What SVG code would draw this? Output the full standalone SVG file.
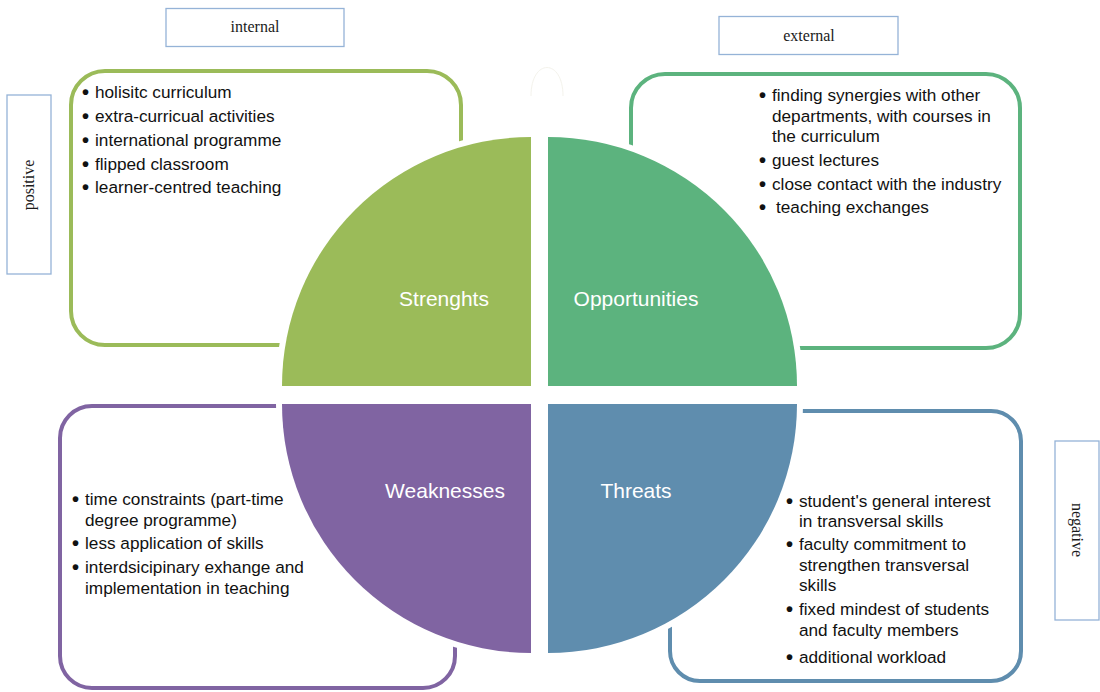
<svg xmlns="http://www.w3.org/2000/svg" width="1100" height="692" viewBox="0 0 1100 692">
  <style>
    .axis { fill: #ffffff; stroke: #95b3d7; stroke-width: 1.3; }
    .axis-t { font-family: "Liberation Serif", "Times New Roman", serif; font-size: 16px; fill: #1a1a1a; text-anchor: middle; }
    .card { fill: #ffffff; stroke-width: 4; }
    .quarter { stroke: #ffffff; stroke-width: 12; paint-order: stroke; stroke-linejoin: miter; }
    .label { font-family: "Liberation Sans", Arial, sans-serif; font-size: 21px; fill: #ffffff; text-anchor: middle; }
    .item { font-family: "Liberation Sans", Arial, sans-serif; font-size: 17.2px; fill: #111111; }
    .dot { font-family: "Liberation Sans", Arial, sans-serif; font-size: 20px; font-weight: bold; fill: #111111; }
  </style>

  <!-- axis labels -->
  <g id="internal">
    <rect class="axis" x="166" y="8.5" width="178" height="38"/>
    <text class="axis-t" x="255" y="32">internal</text>
  </g>
  <g id="external">
    <rect class="axis" x="719" y="16.5" width="179" height="38"/>
    <text class="axis-t" x="809" y="41">external</text>
  </g>
  <g id="positive">
    <rect class="axis" x="7" y="95" width="44" height="179"/>
    <text class="axis-t" transform="translate(34,185) rotate(-90)" x="0" y="0">positive</text>
  </g>
  <g id="negative">
    <rect class="axis" x="1055" y="441" width="44" height="179"/>
    <text class="axis-t" transform="translate(1072,530) rotate(90)" x="0" y="0">negative</text>
  </g>

  <!-- faint arc above the centre -->
  <path d="M531,96 C531,58 563,58 563,96" fill="none" stroke="#f4f3ec" stroke-width="1"/>

  <g id="connectors"></g>

  <!-- Strengths -->
  <g id="strengths">
    <rect class="card" x="71" y="71" width="390" height="274" rx="34" stroke="#9bbb59"/>
    <path class="quarter" fill="#9bbb59" d="M531,386 L282,386 A249,249 0 0 1 531,137 Z"/>
    <text class="label" x="444" y="306">Strenghts</text>
    <g class="item">
      <text class="dot" x="82" y="99">•</text><text x="95" y="98">holisitc curriculum</text>
      <text class="dot" x="82" y="123">•</text><text x="95" y="122">extra-curricual activities</text>
      <text class="dot" x="82" y="147">•</text><text x="95" y="146">international programme</text>
      <text class="dot" x="82" y="171">•</text><text x="95" y="170">flipped classroom</text>
      <text class="dot" x="82" y="194">•</text><text x="95" y="193">learner-centred teaching</text>
    </g>
  </g>

  <!-- Opportunities -->
  <g id="opportunities">
    <rect class="card" x="631" y="74" width="389" height="274" rx="34" stroke="#5cb37e"/>
    <path class="quarter" fill="#5cb37e" d="M548,386 L548,137 A249,249 0 0 1 797,386 Z"/>
    <text class="label" x="636" y="306">Opportunities</text>
    <g class="item">
      <text class="dot" x="759" y="102">•</text><text x="772" y="101">finding synergies with other</text>
      <text x="772" y="122">departments, with courses in</text>
      <text x="772" y="142">the curriculum</text>
      <text class="dot" x="759" y="167">•</text><text x="772" y="166">guest lectures</text>
      <text class="dot" x="759" y="191">•</text><text x="772" y="190">close contact with the industry</text>
      <text class="dot" x="759" y="214">•</text><text x="776" y="213">teaching exchanges</text>
    </g>
  </g>

  <!-- Weaknesses -->
  <g id="weaknesses">
    <rect class="card" x="60" y="406" width="395" height="282" rx="32" stroke="#8064a2"/>
    <path class="quarter" fill="#8064a2" d="M531,404 L531,653 A249,249 0 0 1 282,404 Z"/>
    <text class="label" x="445" y="498">Weaknesses</text>
    <g class="item">
      <text class="dot" x="72" y="506">•</text><text x="85" y="505">time constraints (part-time</text>
      <text x="85" y="526">degree programme)</text>
      <text class="dot" x="72" y="550">•</text><text x="85" y="549">less application of skills</text>
      <text class="dot" x="72" y="574">•</text><text x="85" y="573">interdsicipinary exhange and</text>
      <text x="85" y="594">implementation in teaching</text>
    </g>
  </g>

  <!-- Threats -->
  <g id="threats">
    <rect class="card" x="670" y="411" width="351" height="270" rx="30" stroke="#5f8dae"/>
    <path class="quarter" fill="#5f8dae" d="M548,404 L797,404 A249,249 0 0 1 548,653 Z"/>
    <text class="label" x="636" y="498">Threats</text>
    <g class="item">
      <text class="dot" x="786" y="508">•</text><text x="799" y="507">student's general interest</text>
      <text x="799" y="527">in transversal skills</text>
      <text class="dot" x="786" y="551">•</text><text x="799" y="550">faculty commitment to</text>
      <text x="799" y="571">strengthen transversal</text>
      <text x="799" y="591">skills</text>
      <text class="dot" x="786" y="616">•</text><text x="799" y="615">fixed mindest of students</text>
      <text x="799" y="636">and faculty members</text>
      <text class="dot" x="786" y="664">•</text><text x="799" y="663">additional workload</text>
    </g>
  </g>
</svg>
